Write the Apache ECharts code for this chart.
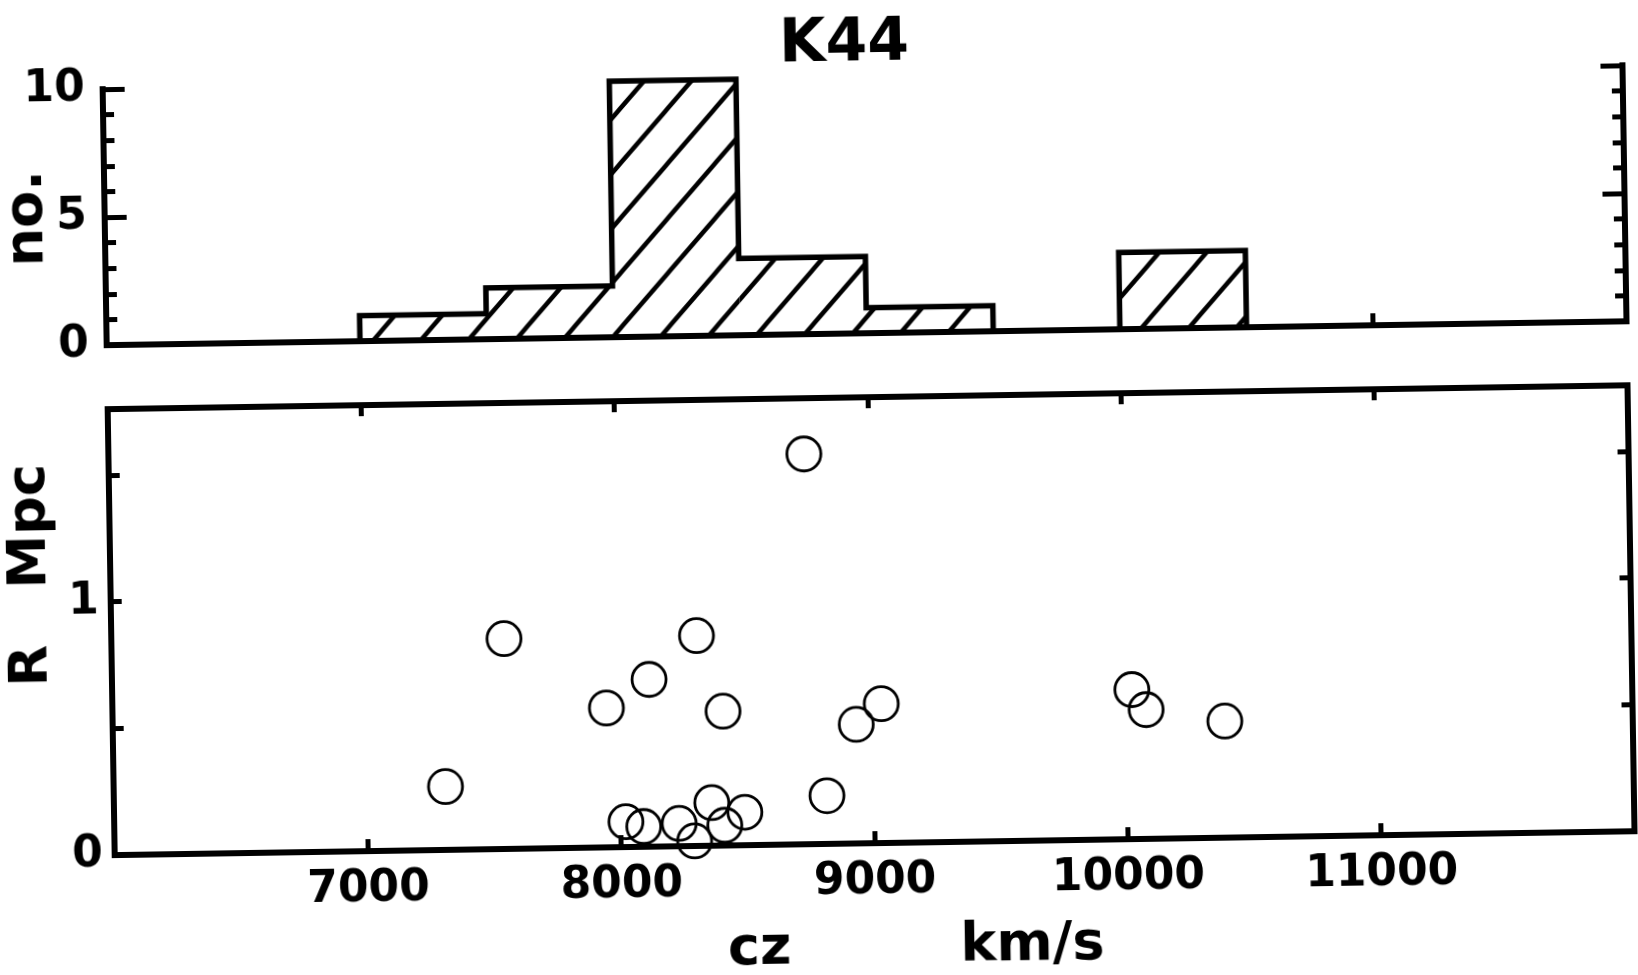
<!DOCTYPE html>
<html>
<head>
<meta charset="utf-8">
<title>K44</title>
<script src="https://cdn.jsdelivr.net/npm/echarts@6/dist/echarts.min.js"></script>
<style>
html, body { margin: 0; padding: 0; background: #fff; }
/* the scanned figure sits slightly tilted on the page */
#main { width: 1638px; height: 975px; transform: rotate(-0.9deg); transform-origin: 819px 487.5px; }
</style>
</head>
<body>
<div id="main"></div>
<script>
// histogram bins (km/s) and galaxy counts
var binStart = [7000, 7500, 8000, 8500, 9000, 9500, 10000];
var binEnd   = [7500, 8000, 8500, 9000, 9500, 10000, 10500];
var binCount = [1, 2, 10, 3, 1, 0, 3];

// galaxies: velocity cz (km/s) and projected distance R (Mpc)
var czValues = [7310, 7550, 7950, 8020, 8090, 8120, 8230, 8290, 8310, 8360,
                8410, 8410, 8490, 8745, 8815, 8935, 9035, 10025, 10080, 10390];
var rValues  = [0.25, 0.83, 0.55, 0.10, 0.08, 0.66, 0.09, 0.02, 0.83, 0.17,
                0.53, 0.08, 0.13, 1.54, 0.19, 0.47, 0.55, 0.59, 0.51, 0.46];

// ticks and tick labels
var czLabels  = [7000, 8000, 9000, 10000, 11000];
var histXTick = [11000];
var rTicks    = [0.5, 1, 1.5];
var rLabels   = [0, 1];

var ink = '#000';
var lineW = 6, tickW = 5;
var font = 'DejaVu Sans';

function hatch() {
    var w = 48, h = 54;
    var c = document.createElement('canvas');
    c.width = w; c.height = h;
    var g = c.getContext('2d');
    g.strokeStyle = ink;
    g.lineWidth = 4.5;
    g.beginPath();
    g.moveTo(0, h); g.lineTo(w, 0);
    g.moveTo(-w / 8, h / 8); g.lineTo(w / 8, -h / 8);
    g.moveTo(w - w / 8, h + h / 8); g.lineTo(w + w / 8, h - h / 8);
    g.stroke();
    return c;
}
var pattern = { image: hatch(), repeat: 'repeat' };

// step outline of the histogram
var outline = [[binStart[0], 0]];
for (var i = 0; i < binCount.length; i++) {
    outline.push([binStart[i], binCount[i]]);
    outline.push([binEnd[i], binCount[i]]);
}
outline.push([binEnd[binEnd.length - 1], 0]);

var bins = binStart.map(function (s, i) { return [s, binEnd[i], binCount[i]]; });
var points = czValues.map(function (c, i) { return [c, rValues[i]]; });

var tickLabel = { fontFamily: font, fontWeight: 'bold', fontSize: 44, color: ink,
                  formatter: function (v) { return String(v); } };
var nameStyle = { fontFamily: font, fontWeight: 'bold', fontSize: 54, color: ink };
var axisLine = { onZero: false, lineStyle: { color: ink, width: lineW, cap: 'square' } };

function tick(len, extra) {
    var t = { inside: true, length: len, lineStyle: { color: ink, width: tickW } };
    for (var k in extra) t[k] = extra[k];
    return t;
}

var chart = echarts.init(document.getElementById('main'));
option = {
    backgroundColor: '#fff',
    animation: false,
    title: {
        text: 'K44',
        left: 846,
        textAlign: 'center',
        top: 10,
        textStyle: { fontFamily: font, fontWeight: 'bold', fontSize: 60, color: ink }
    },
    grid: [
        { left: 109, right: 9, top: 78, height: 256, outerBoundsMode: 'none' },
        { left: 109, right: 9, top: 398, height: 446, outerBoundsMode: 'none' }
    ],
    xAxis: [
        {
            gridIndex: 0, type: 'value', min: 6000, max: 12000, interval: 1000,
            axisLine: axisLine, axisTick: tick(12, { customValues: histXTick }),
            axisLabel: { show: false }, splitLine: { show: false }
        },
        {
            gridIndex: 1, type: 'value', min: 6000, max: 12000, interval: 1000,
            axisLine: axisLine, axisTick: tick(12),
            axisLabel: Object.assign({ margin: 17, customValues: czLabels }, tickLabel),
            splitLine: { show: false },
            name: 'cz         km/s', nameLocation: 'middle', nameGap: 78, nameMoveOverlap: false,
            nameTextStyle: Object.assign({ padding: [0, 0, 0, 80] }, nameStyle)
        },
        {
            gridIndex: 1, type: 'value', position: 'top', min: 6000, max: 12000, interval: 1000,
            axisLine: axisLine, axisTick: tick(11),
            axisLabel: { show: false }, splitLine: { show: false }
        }
    ],
    yAxis: [
        {
            gridIndex: 0, type: 'value', min: 0, max: 10, interval: 5,
            axisLine: axisLine, axisTick: tick(22),
            minorTick: { show: true, splitNumber: 5, length: 11, lineStyle: { color: ink, width: tickW } },
            axisLabel: Object.assign({ margin: 18 }, tickLabel),
            splitLine: { show: false },
            name: 'no.', nameLocation: 'middle', nameRotate: 90, nameGap: 50, nameMoveOverlap: false,
            nameTextStyle: nameStyle
        },
        {
            gridIndex: 0, type: 'value', position: 'right', min: 0, max: 10, interval: 5,
            axisLine: axisLine, axisTick: tick(22),
            minorTick: { show: true, splitNumber: 5, length: 11, lineStyle: { color: ink, width: tickW } },
            axisLabel: { show: false }, splitLine: { show: false }
        },
        {
            gridIndex: 1, type: 'value', min: 0, max: 1.76, interval: 0.5,
            axisLine: axisLine, axisTick: tick(11, { customValues: rTicks }),
            axisLabel: Object.assign({ margin: 12, customValues: rLabels }, tickLabel),
            splitLine: { show: false },
            name: 'R   Mpc', nameLocation: 'middle', nameRotate: 90, nameGap: 52, nameMoveOverlap: false,
            nameTextStyle: Object.assign({ padding: [0, 0, 0, 116] }, nameStyle)
        },
        {
            gridIndex: 1, type: 'value', position: 'right', min: 0, max: 1.76, interval: 0.5,
            axisLine: axisLine, axisTick: tick(11, { customValues: rTicks }),
            axisLabel: { show: false }, splitLine: { show: false }
        }
    ],
    series: [
        {
            type: 'custom',
            xAxisIndex: 0, yAxisIndex: 0,
            data: bins,
            encode: { x: [0, 1], y: 2 },
            renderItem: function (params, api) {
                var a = api.coord([api.value(0), api.value(2)]);
                var b = api.coord([api.value(1), 0]);
                return {
                    type: 'rect',
                    shape: { x: a[0], y: a[1], width: b[0] - a[0], height: b[1] - a[1] },
                    style: { fill: pattern }
                };
            }
        },
        {
            type: 'line',
            xAxisIndex: 0, yAxisIndex: 0,
            data: outline,
            symbol: 'none',
            clip: false,
            lineStyle: { color: ink, width: 5.5, join: 'miter', cap: 'square' }
        },
        {
            type: 'scatter',
            xAxisIndex: 1, yAxisIndex: 2,
            data: points,
            symbol: 'circle',
            symbolSize: 34,
            itemStyle: { color: 'rgba(0,0,0,0)', borderColor: ink, borderWidth: 2.8, opacity: 1 }
        }
    ]
};
chart.setOption(option);
</script>
</body>
</html>
